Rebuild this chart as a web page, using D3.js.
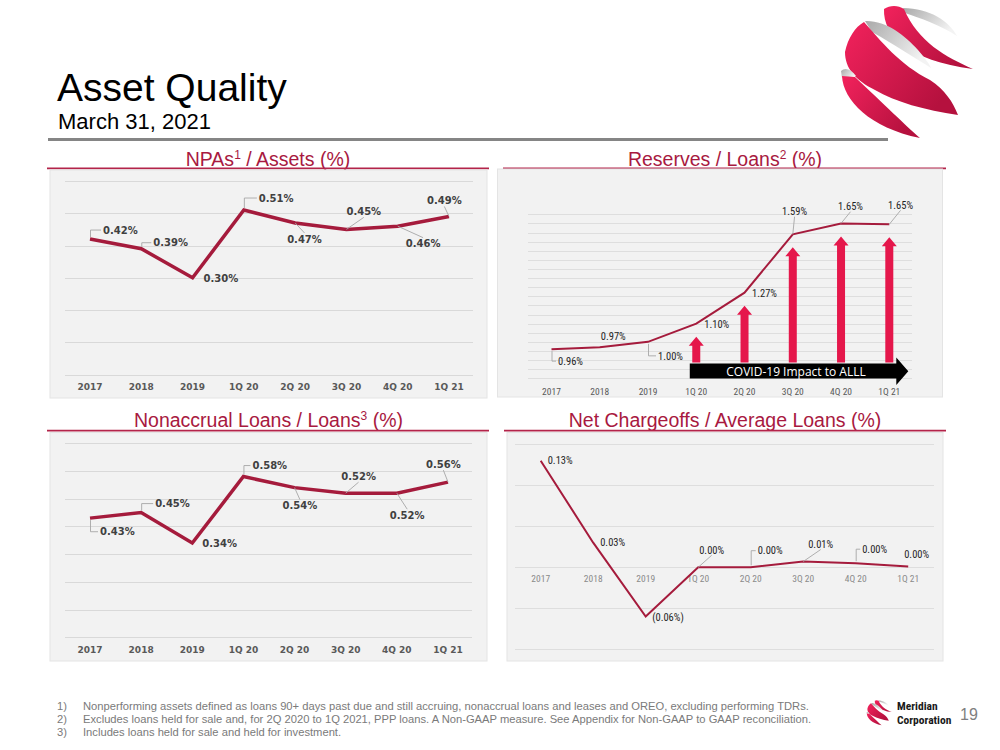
<!DOCTYPE html>
<html>
<head>
<meta charset="utf-8">
<script src="https://cdn.jsdelivr.net/npm/d3@7"></script>
<style>
  body { margin: 0; background: #fff; }
  svg { display: block; }
</style>
</head>
<body>
<div id="graph"></div>
<script>
let width = 1000, height = 750;

// ---- data ----
const categories = ["2017", "2018", "2019", "1Q 20", "2Q 20", "3Q 20", "4Q 20", "1Q 21"];
const npaValues = [0.42, 0.39, 0.30, 0.51, 0.47, 0.45, 0.46, 0.49];
const reserveValues = [0.96, 0.97, 1.00, 1.10, 1.27, 1.59, 1.65, 1.645];
const reserveLabels = ["0.96%", "0.97%", "1.00%", "1.10%", "1.27%", "1.59%", "1.65%", "1.65%"];
const nonaccrualValues = [0.43, 0.45, 0.34, 0.58, 0.54, 0.52, 0.52, 0.56];
const chargeoffValues = [0.13, 0.03, -0.06, 0.00, 0.00, 0.007, 0.005, 0.001];
const chargeoffLabels = ["0.13%", "0.03%", "(0.06%)", "0.00%", "0.00%", "0.01%", "0.00%", "0.00%"];
const covidCategories = ["1Q 20", "2Q 20", "3Q 20", "4Q 20", "1Q 21"];
const footnotes = [
  "Nonperforming assets defined as loans 90+ days past due and still accruing, nonaccrual loans and leases and OREO, excluding performing TDRs.",
  "Excludes loans held for sale and, for 2Q 2020 to 1Q 2021, PPP loans.  A Non-GAAP measure. See Appendix for Non-GAAP to GAAP reconciliation.",
  "Includes loans held for sale and held for investment."
];

const crimson = "#a8193f";
const lineRed = "#a51b3c";
const narrow = "'Liberation Sans Narrow', 'Arial Narrow', 'Roboto Condensed', sans-serif";

let svg = d3.select("#graph").append("svg")
  .attr("width", width)
  .attr("height", height)
  .style("font-family", "'Liberation Sans', Arial, sans-serif");

// gradients for the logo
let defs = svg.append("defs");
let gRed = defs.append("linearGradient").attr("id", "logoRed")
  .attr("x1", 0).attr("y1", 0).attr("x2", 1).attr("y2", 0.6);
gRed.append("stop").attr("offset", "0%").attr("stop-color", "#f2225c");
gRed.append("stop").attr("offset", "100%").attr("stop-color", "#b5113e");
let gGray = defs.append("linearGradient").attr("id", "logoGray")
  .attr("x1", 0).attr("y1", 0).attr("x2", 1).attr("y2", 0.5);
gGray.append("stop").attr("offset", "0%").attr("stop-color", "#a9a9a9");
gGray.append("stop").attr("offset", "100%").attr("stop-color", "#f3f3f3");

function drawLogo(g) {
  g.append("path").attr("fill", "url(#logoGray)")
    .attr("d", "M903,8 C930,8 950,22 957,36 C940,25 920,18 905,13 Z");
  g.append("path").attr("fill", "url(#logoRed)")
    .attr("d", "M884,9 C890,5 898,5 904,9 C918,42 946,57 973,69 C908,60 883,36 884,9 Z");
  g.append("path").attr("fill", "url(#logoGray)")
    .attr("d", "M865,21 C885,20 905,35 918,50 C925,58 930,65 931,68 C915,58 895,45 872,32 Z");
  g.append("path").attr("fill", "url(#logoRed)")
    .attr("d", "M845,52 C848,38 855,27 864,22 C880,40 900,65 930,80 C945,90 953,102 958,115 C925,110 895,102 875,90 C855,80 845,68 845,52 Z");
  g.append("path").attr("fill", "url(#logoGray)")
    .attr("d", "M841,71 C845,67 851,69 856,76 L842,78 Z");
  g.append("path").attr("fill", "url(#logoRed)")
    .attr("d", "M842,76 C843,100 870,128 920,138 C905,125 885,105 855,77 Z");
}

// big logo, top right
drawLogo(svg.append("g"));

// ---- header ----
svg.append("text").attr("x", 57).attr("y", 100.5)
  .style("font-size", "39px").attr("fill", "#000").text("Asset Quality");
svg.append("text").attr("x", 58).attr("y", 128.5)
  .style("font-size", "22px").attr("fill", "#000").text("March 31, 2021");
svg.append("line").attr("x1", 48).attr("x2", 888).attr("y1", 139.5).attr("y2", 139.5)
  .attr("stroke", "#858585").attr("stroke-width", 3);

// ---- panel layouts ----
const panels = [
  {
    title: ["NPAs", "1", " / Assets (%)"], titleX: 268, titleY: 165.5, rule: [47, 489, 168.3],
    box: [50, 170, 437, 228], xRange: [90, 449], yDomain: [0, 0.6], yRange: [374.5, 181],
    gridX: [65, 473], gridStep: 0.1, catY: 390, values: npaValues,
    labels: npaValues.map(v => v.toFixed(2) + "%"),
    place: [[13, -9, "b"], [12, -6, "b"], [11, 1, ""], [15, -12, "b"], [-8, 16, "d"], [0, -18, "d"], [8, 17.5, "d"], [-22, -16, "d"]],
    bold: true, lineWidth: 3.5
  },
  {
    title: ["Reserves / Loans", "2", " (%)"], titleX: 725, titleY: 165.5, rule: [503, 946, 168.3],
    box: [497.5, 169, 445, 228], xRange: [551.5, 889.3], yDomain: [0.8, 1.7], yRange: [378.3, 214.3],
    gridX: [528, 912], gridStep: 0.05, catY: 394.5, values: reserveValues,
    labels: reserveLabels,
    place: [[6.5, 12, "b"], [1, -11.6, ""], [10, 14, "b"], [8, 1, ""], [7.5, 0.6, ""], [-10.7, -22.7, "d"], [-3, -16.7, "d"], [-1.2, -19, "d"]],
    bold: false, lineWidth: 2
  },
  {
    title: ["Nonaccrual Loans / Loans", "3", " (%)"], titleX: 268.5, titleY: 427, rule: [47, 489, 430.7],
    box: [50, 432.5, 437, 228.5], xRange: [90, 448], yDomain: [0, 0.7], yRange: [637.3, 443.3],
    gridX: [65, 472], gridStep: 0.1, catY: 652.5, values: nonaccrualValues,
    labels: nonaccrualValues.map(v => v.toFixed(2) + "%"),
    place: [[10, 13.6, "b"], [14, -9, "b"], [10, 0, ""], [9, -11, "b"], [-12, 18, "d"], [-4.5, -17, "d"], [-7, 22, "d"], [-22, -18, "d"]],
    bold: true, lineWidth: 3.5
  },
  {
    title: ["Net Chargeoffs / Average Loans (%)", "", ""], titleX: 725, titleY: 427, rule: [504, 946, 430.7],
    box: [507, 432.5, 436, 228.5], xRange: [540.7, 908.2], yDomain: [-0.1, 0.15], yRange: [649.3, 444.3],
    gridX: [515, 934], gridStep: 0.05, catY: 582, values: chargeoffValues,
    labels: chargeoffLabels,
    place: [[7, 0, ""], [7, 0, ""], [6.5, 1, ""], [1, -17, "d"], [7, -16.6, "b"], [5, -17, "d"], [6.5, -14, "b"], [-4, -12, ""]],
    bold: false, lineWidth: 2, light: true
  }
];

function drawPanel(p) {
  let g = svg.append("g");

  // title with superscript
  let t = g.append("text").attr("x", p.titleX).attr("y", p.titleY)
    .attr("text-anchor", "middle").attr("fill", crimson).style("font-size", "19.5px");
  t.append("tspan").text(p.title[0]);
  if (p.title[1]) {
    t.append("tspan").attr("dy", -7).style("font-size", "12px").text(p.title[1]);
    t.append("tspan").attr("dy", 7).text(p.title[2]);
  }
  g.append("line").attr("x1", p.rule[0]).attr("x2", p.rule[1]).attr("y1", p.rule[2]).attr("y2", p.rule[2])
    .attr("stroke", "#b3244a").attr("stroke-width", 1.8);

  // background box
  g.append("rect").attr("x", p.box[0]).attr("y", p.box[1]).attr("width", p.box[2]).attr("height", p.box[3])
    .attr("fill", "#f2f2f2").attr("stroke", "#e4e4e4").attr("stroke-width", 1);

  let x = d3.scalePoint(categories, p.xRange);
  let y = d3.scaleLinear(p.yDomain, p.yRange);

  // gridlines
  let ticks = d3.range(p.yDomain[0], p.yDomain[1] + p.gridStep / 2, p.gridStep);
  g.append("g").selectAll("line").data(ticks).enter().append("line")
    .attr("x1", p.gridX[0]).attr("x2", p.gridX[1])
    .attr("y1", d => Math.round(y(d)) + 0.5).attr("y2", d => Math.round(y(d)) + 0.5)
    .attr("stroke", p.bold ? "#d9d9d9" : "#dedede").attr("stroke-width", 1);

  // category labels
  g.append("g").selectAll("text").data(categories).enter().append("text")
    .attr("x", d => x(d)).attr("y", p.catY).attr("text-anchor", "middle")
    .attr("fill", p.light ? "#8a8a8a" : "#595959")
    .style("font-family", p.bold ? "'DejaVu Sans', Verdana, sans-serif" : narrow)
    .style("font-weight", p.bold ? "bold" : "normal")
    .style("font-size", p.bold ? "9px" : "9.5px")
    .text(d => d);

  return { g: g, x: x, y: y };
}

function drawSeries(p, ctx) {
  let g = ctx.g, x = ctx.x, y = ctx.y;
  let line = d3.line().x((d, i) => x(categories[i])).y(d => y(d));

  g.append("path").datum(p.values)
    .attr("fill", "none").attr("stroke", lineRed)
    .attr("stroke-width", p.lineWidth).attr("stroke-linejoin", "miter")
    .attr("d", line);

  let leaders = g.append("g");
  p.values.forEach((v, i) => {
    let px = x(categories[i]), py = y(v);
    let [dx, dy, kind] = p.place[i];
    let lx = px + dx, ly = py + dy;
    let txt = g.append("text").attr("x", lx).attr("y", ly).attr("dy", "0.36em")
      .attr("fill", p.bold ? "#404040" : "#262626")
      .style("font-family", p.bold ? "'DejaVu Sans', Verdana, sans-serif" : narrow)
      .style("font-weight", p.bold ? "bold" : "normal")
      .style("font-size", p.bold ? "10px" : "10.5px")
      .text(p.labels[i]);
    let w = txt.node().getComputedTextLength();
    let half = p.bold ? 6 : 5;
    if (kind == "b") {
      leaders.append("path")
        .attr("d", "M" + (px + 0.5) + "," + (py + (dy > 0 ? 2 : -2)) + "V" + ly + "H" + (lx - 2))
        .attr("fill", "none").attr("stroke", "#a6a6a6").attr("stroke-width", 0.9);
    } else if (kind == "d") {
      let ex = lx + w / 2, ey = dy > 0 ? ly - half : ly + half;
      leaders.append("line")
        .attr("x1", px).attr("y1", py).attr("x2", ex).attr("y2", ey)
        .attr("stroke", "#a6a6a6").attr("stroke-width", 0.9);
    }
  });
}

let ctxs = panels.map(p => drawPanel(p));

// COVID arrows on reserves panel (drawn under the line)
{
  let ctx = ctxs[1];
  let ag = ctx.g.append("g");
  covidCategories.forEach(c => {
    let i = categories.indexOf(c);
    let cx = ctx.x(c), top = ctx.y(reserveValues[i]) + 13, bottom = 362.5;
    ag.append("path")
      .attr("d", "M" + (cx - 4) + "," + bottom + "V" + (top + 9) + "H" + (cx - 7.5) +
        "L" + cx + "," + top + "L" + (cx + 7.5) + "," + (top + 9) + "H" + (cx + 4) + "V" + bottom + "Z")
      .attr("fill", "#e5174b");
  });
  let x0 = ctx.x(covidCategories[0]) - 6.5, x1 = ctx.x(covidCategories[covidCategories.length - 1]) + 19;
  ag.append("path")
    .attr("d", "M" + x0 + ",363.5H" + (x1 - 12) + "V357.5L" + x1 + ",371.2L" + (x1 - 12) + ",385V378.5H" + x0 + "Z")
    .attr("fill", "#000");
  ag.append("text").attr("x", (x0 + x1 - 12) / 2 + 3).attr("y", 375.5)
    .attr("text-anchor", "middle").attr("fill", "#fff")
    .style("font-family", "'Open Sans', sans-serif").style("font-size", "12px")
    .text("COVID-19 Impact to ALLL");
}

panels.forEach((p, i) => drawSeries(p, ctxs[i]));

// ---- footnotes ----
let fn = svg.append("g").style("font-size", "11.2px").attr("fill", "#7a7a7a");
footnotes.forEach((f, i) => {
  fn.append("text").attr("x", 57).attr("y", 709.5 + i * 13).text((i + 1) + ")");
  fn.append("text").attr("x", 83).attr("y", 709.5 + i * 13).text(f);
});

// ---- bottom right brand ----
drawLogo(svg.append("g").attr("transform", "translate(706.8,699) scale(0.19)"));
svg.append("text").attr("x", 897).attr("y", 709.5)
  .style("font-family", narrow).style("font-weight", "bold").style("font-size", "11.5px")
  .attr("fill", "#1a1a1a").text("Meridian");
svg.append("text").attr("x", 897).attr("y", 723.5)
  .style("font-family", narrow).style("font-weight", "bold").style("font-size", "11.5px")
  .attr("fill", "#1a1a1a").text("Corporation");
svg.append("text").attr("x", 960).attr("y", 720)
  .style("font-size", "16px").attr("fill", "#7f7f7f").text("19");
</script>
</body>
</html>
